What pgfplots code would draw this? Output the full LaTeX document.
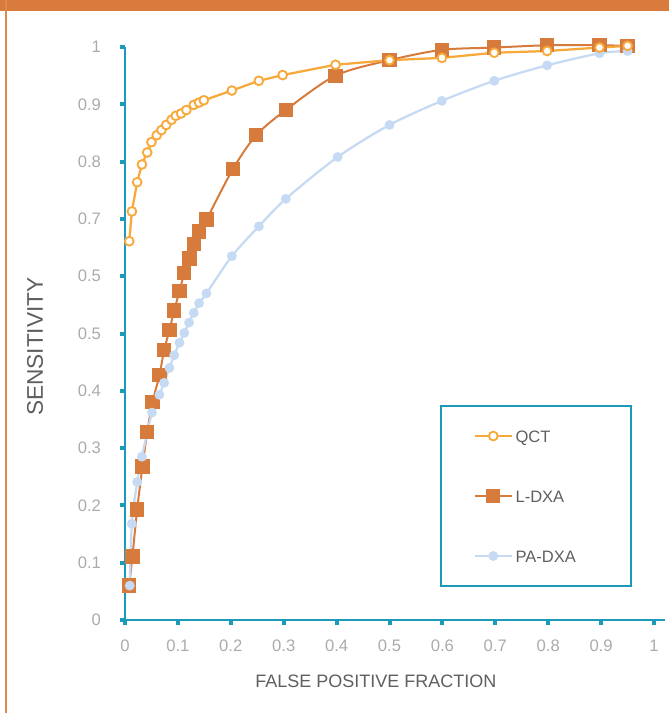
\documentclass[border=0pt]{standalone}
\usepackage{fontspec}
\setmainfont{Liberation Sans}
\usepackage{pgfplots}
\pgfplotsset{compat=1.18}

\definecolor{frameorange}{HTML}{D87B3C}
\definecolor{axteal}{HTML}{1B9BB9}
\definecolor{qctc}{HTML}{F7A93B}
\definecolor{ldxac}{HTML}{D77B3C}
\definecolor{padxac}{HTML}{C6DBF3}
\definecolor{ticktxt}{HTML}{ABABAB}
\definecolor{labtxt}{HTML}{5F5F5F}

\pgfplotsset{
  qct/.style={color=qctc, line width=1.7pt, mark=*, mark size=3.3pt,
    mark options={fill=white, draw=qctc, line width=1.4pt}},
  ldxa/.style={color=ldxac, line width=1.5pt, smooth, mark=square*, mark size=4.6pt,
    mark options={fill=ldxac, draw=none}},
  padxa/.style={color=padxac, line width=1.7pt, smooth, mark=*, mark size=2.8pt,
    mark options={fill=padxac, draw=none}},
}

\begin{document}
\begin{tikzpicture}
% page frame: 669 x 713 px at 0.75pt per px
\useasboundingbox (0,0) rectangle (501.75pt,-534.75pt);
\fill[frameorange] (0,0) rectangle (501.75pt,-8.5pt);
\draw[frameorange!90, line width=1.6pt] (4.3pt,0) -- (4.3pt,-534.75pt);

\begin{axis}[
  at={(93.75pt,-465pt)}, anchor=south west,
  scale only axis,
  width=404.7pt, height=429.75pt,
  xmin=0, xmax=1.02, ymin=0, ymax=1,
  axis lines=left,
  axis line style={-, draw=axteal, line width=2pt},
  clip=false,
  xtick={0,0.1,0.2,0.3,0.4,0.5,0.6,0.7,0.8,0.9,1},
  xticklabels={0,0.1,0.2,0.3,0.4,0.5,0.6,0.7,0.8,0.9,1},
  ytick={0,0.1,0.2,0.3,0.4,0.5,0.6,0.7,0.8,0.9,1},
  yticklabels={0,0.1,0.2,0.3,0.4,0.5,0.5,0.7,0.8,0.9,1},
  tick align=outside,
  major tick length=4pt,
  tick style={draw=axteal, line width=3pt},
  tick label style={font=\fontsize{12.5}{14}\selectfont, text=ticktxt},
  xticklabel style={yshift=-7.5pt},
  yticklabel style={xshift=-10.5pt},
  /pgf/number format/assume math mode=true,
  xlabel={FALSE POSITIVE FRACTION},
  ylabel={SENSITIVITY},
  label style={text=labtxt},
  xlabel style={font=\fontsize{13.5}{16}\selectfont,
    at={(rel axis cs:0.465,0)}, anchor=center, yshift=-45.75pt},
  ylabel style={font=\fontsize{17}{20}\selectfont,
    at={(rel axis cs:-0.1668,0.477)}, anchor=center},
  legend style={draw=none, fill=none, inner sep=0pt,
    at={(axis cs:0.6585,0.2164)}, anchor=west,
    font=\fontsize{12.4}{14}\selectfont, text=labtxt,
    nodes={inner sep=2pt, text height=9pt, text depth=0pt},
    row sep=32pt},
  legend cell align=left,
  legend image code/.code={%
    \draw[mark repeat=2, mark phase=2] plot coordinates {(0pt,0pt)(13.9pt,0pt)(27.75pt,0pt)};},
]
% legend box
\draw[axteal, line width=1.6pt] (axis cs:0.5974,0.3735) rectangle (axis cs:0.9565,0.0593);

\addlegendimage{qct, sharp plot}
\addlegendentry{QCT}
\addlegendimage{ldxa, sharp plot}
\addlegendentry{L-DXA}
\addlegendimage{padxa, sharp plot}
\addlegendentry{PA-DXA}

% L-DXA
\addplot[ldxa, forget plot] coordinates {
  (0.008,0.060) (0.014,0.111) (0.023,0.193) (0.033,0.268) (0.042,0.328)
  (0.052,0.380) (0.065,0.427) (0.074,0.471) (0.084,0.506) (0.093,0.540)
  (0.103,0.574) (0.112,0.605) (0.122,0.631) (0.131,0.656) (0.140,0.678)
  (0.154,0.699) (0.204,0.787) (0.248,0.846) (0.304,0.890) (0.398,0.950)
  (0.500,0.977) (0.599,0.995) (0.698,0.999) (0.798,1.003) (0.897,1.003)
  (0.950,1.002)
};

% PA-DXA
\addplot[padxa, forget plot] coordinates {
  (0.009,0.060) (0.013,0.168) (0.023,0.241) (0.032,0.285) (0.051,0.362)
  (0.065,0.393) (0.074,0.414) (0.084,0.440) (0.093,0.462) (0.103,0.484)
  (0.112,0.501) (0.121,0.519) (0.130,0.536) (0.140,0.553) (0.154,0.570)
  (0.202,0.635) (0.253,0.687) (0.304,0.735) (0.402,0.808) (0.500,0.864)
  (0.599,0.906) (0.698,0.941) (0.798,0.968) (0.897,0.989) (0.950,0.993)
};

% QCT
\addplot[qct, forget plot] coordinates {
  (0.008,0.661) (0.013,0.713) (0.023,0.764) (0.032,0.795) (0.042,0.816)
  (0.050,0.834) (0.060,0.846) (0.069,0.855) (0.078,0.864) (0.088,0.873)
  (0.096,0.880) (0.106,0.884) (0.116,0.890) (0.130,0.899) (0.140,0.903)
  (0.149,0.907) (0.202,0.924) (0.253,0.941) (0.298,0.951) (0.398,0.969)
  (0.500,0.977) (0.599,0.981) (0.698,0.990) (0.798,0.993) (0.897,0.999)
  (0.950,1.002)
};
\end{axis}
\end{tikzpicture}
\end{document}
